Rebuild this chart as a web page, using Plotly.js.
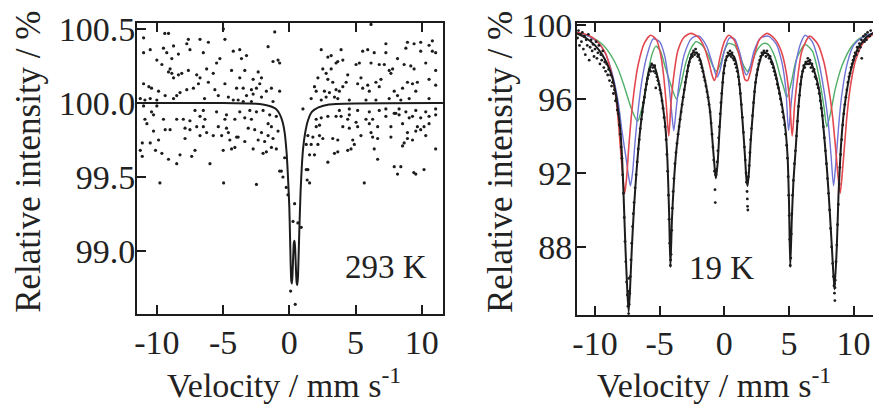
<!DOCTYPE html>
<html><head><meta charset="utf-8">
<script src="https://cdn.plot.ly/plotly-3.0.1.min.js"></script>
</head><body style="margin:0"><div id="plot"></div>
<script>
// ---------- 293 K panel: measured points ----------
const hotX = [-9.12,-11.0,-7.62,-6.74,-4.86,-7.74,-6.11,-9.5,-8.74,-11.0,-10.5,-9.25,-8.37,-7.5,-6.49,-4.23,-8.87,-10.0,-5.24,-5.49,-9.62,-9.0,-9.12,-8.87,-8.12,-7.62,-6.24,-4.36,-8.37,-6.99,-6.74,-5.74,-8.74,-6.86,-6.11,-11.0,-10.6,-10.4,-7.24,-4.86,-3.98,-9.87,-9.37,-8.5,-8.25,-7.74,-5.62,-5.36,-6.4,-11.25,-10.9,-10.5,-10.0,-8.74,-4.6,-4.23,-11.0,-10.0,-10.4,-10.25,-7.12,-6.49,-5.49,-4.74,-10.9,-10.75,-9.5,-8.5,-8.0,-7.5,-6.74,-6.37,-4.86,-4.11,-7.87,-7.5,-9.37,-9.0,-10.25,-6.99,-6.49,-5.36,-4.74,-6.74,-6.24,-5.74,-5.11,-4.6,-3.98,-7.87,-9.87,-11.1,-10.5,-4.49,-11.25,-10.1,-9.62,-7.12,-4.99,-4.36,-4.11,-8.25,-7.37,-9.12,-8.5,-11.1,-5.99,-9.77,-4.96,-9.4,-4.98,
-1.1,-3.74,-1.6,-3.23,-3.61,-1.23,-0.85,-0.73,-3.36,-2.35,-3.74,-2.73,-2.1,-2.23,-3.48,-2.86,-2.48,-1.73,-1.35,-0.73,-3.23,-2.73,-2.1,-1.23,-3.86,-3.48,-2.86,-3.74,-2.98,-2.48,-1.98,-3.36,-2.86,-1.48,-0.98,-1.6,-1.35,-3.1,-2.61,-2.1,-1.6,-0.85,-3.86,-2.35,-1.86,-1.23,-3.36,-1.98,-1.73,-1.35,-0.98,-2.73,-0.35,-0.6,-2.48,-0.73,-0.48,-0.23,-0.1,
0.1,0.45,0.4,0.28,0.65,0.9,1.03,1.35,1.53,1.4,
2.41,2.91,3.16,2.53,2.78,3.16,3.53,2.16,2.91,3.28,1.9,2.03,2.65,3.03,3.53,1.65,2.41,2.78,3.41,2.03,2.41,2.91,3.53,2.03,2.28,1.4,1.78,2.28,2.53,3.28,1.28,1.65,2.16,1.53,1.9,3.41,1.28,2.91,
6.17,3.91,5.54,5.92,7.29,7.29,6.41,8.92,9.42,9.92,10.55,10.8,8.8,9.92,10.8,11.05,3.66,4.04,5.04,5.29,6.17,6.79,7.17,8.17,8.67,9.17,9.42,10.3,11.05,4.41,4.29,4.04,3.78,5.41,5.16,5.54,6.04,5.92,6.54,6.92,6.79,7.54,7.8,7.67,8.55,8.92,9.3,9.67,9.55,10.55,11.05,6.54,7.54,8.42,9.05,10.55,3.66,4.53,5.79,7.92,8.17,
3.78,4.53,5.16,6.04,6.79,7.29,8.04,8.29,8.8,9.55,10.3,11.05,3.91,4.53,4.41,5.04,5.79,6.04,6.29,7.29,7.92,8.29,9.05,9.3,9.92,10.55,11.05,4.04,4.53,5.16,6.67,7.67,8.55,9.67,9.92,10.17,10.55,6.17,6.29,6.67,7.67,8.92,9.55,10.3,9.3,5.41,4.79,4.91,4.66,4.41,3.66,3.66,8.92,8.67,8.55,6.41,6.67,11.05,7.92,8.42,8.17,9.55,10.17,5.66,9.4];
const hotY = [100.47,100.44,100.43,100.43,100.43,100.40,100.41,100.37,100.385,100.34,100.36,100.34,100.33,100.36,100.34,100.35,100.30,100.29,100.30,100.27,100.26,100.23,100.21,100.20,100.20,100.22,100.23,100.22,100.19,100.19,100.17,100.20,100.17,100.13,100.14,100.13,100.11,100.10,100.10,100.13,100.10,100.08,100.05,100.05,100.07,100.09,100.09,100.05,100.03,100.03,100.02,100.03,100.02,100.03,100.04,100.02,99.98,99.98,99.94,99.92,99.95,99.95,99.94,99.92,99.89,99.86,99.89,99.89,99.89,99.88,99.91,99.89,99.89,99.89,99.83,99.82,99.82,99.82,99.81,99.84,99.84,99.84,99.83,99.78,99.80,99.78,99.78,99.80,99.77,99.76,99.75,99.73,99.73,99.75,99.68,99.68,99.66,99.68,99.68,99.69,99.70,99.65,99.64,99.62,99.59,99.64,99.59,99.46,99.46,100.47,100.50,
100.48,100.36,100.38,100.32,100.30,100.28,100.29,100.27,100.22,100.21,100.17,100.16,100.17,100.13,100.10,100.09,100.10,100.08,100.10,100.08,100.05,100.06,100.04,100.01,100.02,100.01,100.01,99.94,99.95,99.94,99.95,99.90,99.89,99.92,99.91,99.86,99.84,99.83,99.82,99.80,99.78,99.81,99.77,99.75,99.74,99.76,99.74,99.66,99.67,99.70,99.69,99.69,99.63,99.54,99.45,99.54,99.50,99.43,99.38,
98.73,98.64,99.32,99.20,99.19,99.16,99.96,99.48,99.46,99.55,
100.36,100.31,100.32,100.23,100.20,100.23,100.27,100.17,100.16,100.14,100.11,100.08,100.08,100.07,100.09,100.03,100.02,100.04,100.04,99.89,99.90,99.91,99.91,99.84,99.85,99.78,99.77,99.78,99.76,99.76,99.72,99.72,99.72,99.65,99.65,99.66,99.55,99.60,
100.53,100.36,100.35,100.36,100.40,100.34,100.34,100.41,100.40,100.41,100.39,100.42,100.37,100.35,100.35,100.34,100.28,100.29,100.26,100.27,100.27,100.26,100.26,100.30,100.26,100.25,100.23,100.27,100.22,100.19,100.14,100.11,100.08,100.17,100.13,100.10,100.08,100.12,100.14,100.16,100.11,100.22,100.23,100.20,100.10,100.14,100.13,100.14,100.08,100.16,100.12,100.02,100.03,100.02,100.03,100.03,100.03,100.02,100.02,100.08,100.05,
99.95,99.96,99.95,99.94,99.95,99.96,99.93,99.96,99.94,99.95,99.94,99.96,99.91,99.92,99.89,99.87,99.89,99.86,99.89,99.91,99.93,99.92,99.90,99.91,99.90,99.91,99.92,99.84,99.83,99.84,99.84,99.84,99.86,99.84,99.82,99.84,99.86,99.80,99.77,99.76,99.77,99.80,99.81,99.78,99.75,99.78,99.75,99.72,99.69,99.68,99.75,99.67,99.76,99.73,99.71,99.69,99.62,99.69,99.57,99.57,99.52,99.52,99.55,99.46,99.53];

// ---------- 293 K panel: fitted curve ----------
const hotFitX = [-11.5,-5,-2.5,-2,-1.5,-1.0,-0.7,-0.5,-0.35,-0.2,-0.1,0.0,0.05,0.1,0.15,0.2,0.25,0.3,0.35,0.4,0.45,0.5,0.55,0.6,0.65,0.7,0.75,0.85,0.95,1.05,1.2,1.4,1.7,2.2,3.0,11.6];
const hotFitY = [100.0,100.0,99.995,99.99,99.98,99.96,99.92,99.87,99.8,99.66,99.5,99.3,99.12,98.92,98.8,98.78,98.86,98.98,99.06,99.07,99.0,98.88,98.79,98.77,98.82,98.96,99.12,99.4,99.58,99.7,99.8,99.88,99.94,99.97,99.99,100.0];

// ---------- 19 K panel: sub-spectra ----------
const redX = [-11.4,-10.5,-9.8,-9.2,-8.8,-8.5,-8.25,-8.05,-7.85,-7.7,-7.55,-7.38,-7.2,-6.95,-6.65,-6.2,-5.7,-5.25,-4.95,-4.7,-4.5,-4.3,-4.12,-3.9,-3.6,-3.1,-2.6,-2.0,-1.55,-1.2,-0.95,-0.78,-0.6,-0.35,0.0,0.35,0.75,1.1,1.4,1.6,1.8,2.0,2.3,2.7,3.3,3.9,4.4,4.8,5.05,5.25,5.45,5.7,6.0,6.6,7.2,7.7,8.05,8.35,8.6,8.8,8.96,9.1,9.3,9.5,9.8,10.2,10.8,11.6];
const redY = [99.6,99.45,99.1,98.5,97.6,96.6,95.2,93.5,91.8,90.9,91.8,93.5,95.0,96.6,97.9,99.0,99.45,99.2,98.5,97.3,95.8,94.0,95.8,97.3,98.6,99.35,99.55,99.35,98.8,98.0,97.3,97.0,97.3,98.2,99.1,99.45,99.2,98.5,97.6,97.05,97.0,97.4,98.3,99.2,99.55,99.25,98.6,97.4,95.9,94.0,95.8,97.3,98.6,99.4,99.0,98.0,96.7,95.2,93.4,91.8,90.9,91.8,93.5,95.2,96.9,98.2,99.1,99.55];
const blueX = [-11.4,-10.5,-9.7,-9.1,-8.6,-8.2,-7.9,-7.6,-7.4,-7.26,-7.1,-6.9,-6.65,-6.35,-6.0,-5.5,-5.0,-4.6,-4.3,-4.1,-3.91,-3.7,-3.45,-3.1,-2.5,-1.95,-1.4,-1.0,-0.7,-0.55,-0.35,0.0,0.4,0.8,1.2,1.5,1.7,1.95,2.3,2.8,3.4,4.0,4.45,4.75,4.97,5.2,5.5,5.9,6.25,6.8,7.3,7.7,8.0,8.25,8.45,8.62,8.85,9.1,9.5,10.0,10.7,11.6];
const blueY = [99.6,99.4,99.0,98.3,97.2,95.8,94.2,92.8,91.8,91.3,92.0,93.7,95.5,97.1,98.3,99.25,99.1,98.3,96.9,95.5,94.3,95.6,97.1,98.4,99.3,99.4,98.9,98.1,97.4,97.2,97.5,98.6,99.3,99.25,98.5,97.6,97.3,97.6,98.6,99.3,99.4,99.0,98.0,96.6,94.3,96.0,97.8,99.0,99.45,99.1,98.0,96.5,95.0,93.0,91.3,92.5,94.6,96.3,97.9,98.9,99.35,99.6];
const greenX = [-11.4,-10.5,-9.5,-8.8,-8.2,-7.7,-7.2,-6.72,-6.3,-5.95,-5.6,-5.3,-4.95,-4.6,-4.2,-3.7,-3.35,-3.0,-2.6,-2.2,-1.7,-1.2,-0.9,-0.6,-0.3,0.0,0.3,0.8,1.2,1.5,1.8,2.1,2.5,3.0,3.4,3.9,4.3,4.6,4.84,5.15,5.6,6.25,6.8,7.3,7.7,7.93,8.2,8.6,9.1,9.8,10.5,11.6];
const greenY = [99.5,99.4,99.0,98.4,97.6,96.6,95.5,94.8,95.7,97.2,98.4,98.85,98.6,97.8,96.9,96.0,96.8,97.9,98.7,99.1,98.9,98.3,97.8,97.5,97.9,98.6,99.0,98.9,98.3,97.8,97.5,97.9,98.6,99.0,98.95,98.3,97.3,96.6,96.1,96.8,98.2,98.95,98.6,97.3,95.6,94.5,95.2,96.6,97.8,98.8,99.3,99.5];

// ---------- 19 K panel: total fit ----------
const coldFitX = [-11.4,-10.7,-10.0,-9.45,-9.0,-8.68,-8.4,-8.2,-8.03,-7.9,-7.78,-7.65,-7.5,-7.4,-7.3,-7.15,-6.98,-6.8,-6.6,-6.4,-6.2,-6.0,-5.8,-5.6,-5.4,-5.2,-4.95,-4.75,-4.56,-4.4,-4.27,-4.17,-4.05,-3.9,-3.7,-3.5,-3.27,-3.0,-2.75,-2.45,-2.15,-1.85,-1.55,-1.3,-1.1,-0.9,-0.75,-0.65,-0.52,-0.38,-0.22,-0.05,0.15,0.45,0.75,1.0,1.2,1.4,1.58,1.72,1.8,1.9,2.05,2.2,2.4,2.65,3.0,3.35,3.7,3.95,4.2,4.45,4.71,4.9,5.0,5.1,5.22,5.35,5.5,5.75,6.0,6.25,6.5,6.8,7.05,7.3,7.55,7.75,7.95,8.15,8.35,8.52,8.7,8.83,9.0,9.2,9.4,9.73,10.0,10.3,10.7,11.0,11.6];
const coldFitY = [99.55,99.3,98.9,98.4,97.8,97.2,96.3,95.3,94.2,92.7,90.6,88.0,85.6,84.5,85.6,88.0,90.2,92.0,93.7,95.0,96.0,96.9,97.6,97.85,97.75,97.3,96.5,95.6,94.5,92.7,89.8,86.9,89.5,91.5,93.3,94.5,95.7,96.9,97.9,98.5,98.5,98.1,97.2,96.3,95.3,93.6,92.3,91.7,92.5,94.2,96.0,97.5,98.2,98.45,98.3,97.7,96.6,94.9,93.1,91.6,91.3,92.0,93.8,95.2,96.8,97.8,98.5,98.45,98.0,97.4,96.6,95.7,94.5,92.8,90.5,86.9,89.5,91.6,93.1,95.7,97.3,97.9,98.05,97.8,97.3,96.6,95.3,93.8,92.1,90.0,87.6,85.7,88.0,90.8,93.2,95.0,96.1,97.4,98.1,98.7,99.1,99.35,99.6];

// ---------- 19 K panel: measured points ----------
const coldX = [-11.35,-11.28,-11.2,-11.12,-11.05,-10.98,-10.9,-10.82,-10.75,-10.68,-10.6,-10.52,-10.45,-10.38,-10.3,-10.22,-10.15,-10.08,-10.0,-9.92,-9.85,-9.78,-9.7,-9.62,-9.55,-9.48,-9.4,-9.32,-9.25,-9.18,-9.1,-9.02,-8.95,-8.88,-8.8,-8.72,-8.65,-8.58,-8.5,-8.42,-8.35,-8.28,-8.2,-8.12,-8.05,-7.98,-7.92,-7.86,-7.8,-7.74,-7.68,-7.62,-7.56,-7.5,-7.45,-7.4,-7.36,-7.32,-7.27,-7.22,-7.16,-7.1,-7.04,-6.98,-6.9,-6.82,-6.74,-6.66,-6.58,-6.5,-6.42,-6.34,-6.26,-6.18,-6.1,-6.02,-5.94,-5.86,-5.78,-5.7,-5.62,-5.54,-5.46,-5.38,-5.3,-5.22,-5.14,-5.06,-4.98,-4.9,-4.82,-4.74,-4.66,-4.58,-4.5,-4.44,-4.38,-4.32,-4.27,-4.22,-4.17,-4.12,-4.07,-4.02,-3.96,-3.9,-3.82,-3.74,-3.66,-3.58,-3.5,-3.42,-3.34,-3.26,-3.18,-3.1,-3.02,-2.94,-2.86,-2.78,-2.7,-2.62,-2.54,-2.46,-2.38,-2.3,-2.22,-2.14,-2.06,-1.98,-1.9,-1.82,-1.74,-1.66,-1.58,-1.5,-1.42,-1.34,-1.26,-1.18,-1.1,-1.02,-0.95,-0.88,-0.82,-0.76,-0.72,-0.7,-0.68,-0.64,-0.6,-0.55,-0.5,-0.44,-0.38,-0.32,-0.26,-0.2,-0.12,-0.04,0.04,0.12,0.2,0.28,0.36,0.44,0.52,0.6,0.68,0.76,0.84,0.92,1.0,1.08,1.16,1.24,1.32,1.4,1.48,1.56,1.62,1.68,1.72,1.76,1.78,1.8,1.82,1.86,1.92,1.98,2.04,2.1,2.18,2.26,2.34,2.42,2.5,2.58,2.66,2.74,2.82,2.9,2.98,3.06,3.14,3.22,3.3,3.38,3.46,3.54,3.62,3.7,3.78,3.86,3.94,4.02,4.1,4.18,4.26,4.34,4.42,4.5,4.58,4.66,4.74,4.82,4.88,4.94,4.98,5.02,5.06,5.1,5.14,5.18,5.22,5.28,5.34,5.42,5.5,5.58,5.66,5.74,5.82,5.9,5.98,6.06,6.14,6.22,6.3,6.38,6.46,6.54,6.62,6.7,6.78,6.86,6.94,7.02,7.1,7.18,7.26,7.34,7.42,7.5,7.58,7.66,7.74,7.82,7.9,7.98,8.06,8.14,8.22,8.3,8.38,8.44,8.48,8.52,8.55,8.58,8.64,8.7,8.76,8.82,8.88,8.94,9.0,9.08,9.16,9.24,9.32,9.4,9.48,9.56,9.64,9.72,9.8,9.88,9.96,10.04,10.12,10.2,10.28,10.36,10.44,10.52,10.6,10.63,10.76,10.84,10.92,11.0,11.08,11.24,11.32,-5.3,-7.42,-7.38,-4.15,8.53,8.56];
const coldY = [99.3,99.7,98.9,99.5,99.1,99.6,98.7,99.4,98.4,99.2,98.9,99.5,98.1,98.8,99.2,98.6,98.95,98.3,98.7,99.1,98.2,98.5,98.9,97.9,98.4,98.1,98.6,97.7,98.0,97.5,97.9,97.3,97.6,97.0,97.3,96.7,96.9,96.3,96.5,95.9,96.0,95.4,95.2,94.6,94.1,93.4,92.8,91.9,90.9,89.6,88.3,87.2,86.1,85.4,84.8,84.4,84.9,85.5,86.4,87.3,88.2,89.1,89.8,90.4,91.2,91.9,92.6,93.3,93.8,94.4,94.9,95.3,95.8,96.1,96.5,96.8,97.1,97.3,97.6,97.5,97.9,97.7,97.5,97.8,97.4,97.2,97.0,96.8,96.5,96.3,95.9,95.5,95.0,94.5,93.8,93.0,92.1,90.8,89.5,88.2,87.0,87.6,88.9,90.1,91.0,91.7,92.5,93.1,93.6,94.1,94.5,94.9,95.3,95.7,96.1,96.5,96.9,97.2,97.5,97.8,98.0,98.2,98.4,98.3,98.6,98.4,98.7,98.5,98.3,98.4,98.1,97.9,97.7,97.5,97.2,97.0,96.7,96.4,96.1,95.7,95.3,94.7,94.1,93.4,92.7,92.1,91.1,90.4,91.9,91.9,92.2,92.6,93.2,93.9,94.5,95.2,95.8,96.3,96.9,97.4,97.8,98.1,98.3,98.5,98.4,98.6,98.3,98.5,98.2,98.1,97.9,97.7,97.5,97.2,96.8,96.3,95.7,95.0,94.2,93.4,92.7,92.0,91.5,91.0,90.6,90.2,90.0,91.8,92.4,93.1,93.8,94.4,95.1,95.8,96.4,96.9,97.3,97.6,97.9,98.1,98.3,98.5,98.4,98.6,98.5,98.3,98.6,98.4,98.2,98.3,98.0,97.9,97.7,97.5,97.3,97.1,96.8,96.6,96.3,96.0,95.7,95.3,95.0,94.6,94.1,93.5,92.8,91.8,90.8,89.7,88.4,87.0,87.4,88.7,89.8,90.8,91.6,92.5,93.2,94.0,94.8,95.6,96.2,96.8,97.2,97.5,97.8,97.7,98.0,97.9,98.2,97.9,98.1,97.7,97.9,97.5,97.6,97.2,97.1,96.8,96.6,96.3,95.9,95.5,95.1,94.5,93.9,93.2,92.5,91.7,90.9,90.0,89.0,88.0,87.1,86.4,85.9,85.5,85.1,86.2,87.2,88.1,89.2,90.3,91.4,92.3,93.0,93.8,94.6,95.2,95.7,96.1,96.5,96.9,97.2,97.4,97.7,97.9,98.1,98.3,98.5,98.4,98.8,98.6,99.0,98.8,99.2,98.2,99.4,99.1,99.5,99.2,99.6,99.4,99.7,96.6,85.6,86.3,87.3,86.0,85.8];

// ---------- ticks and texts ----------
const velTicks = [-10, -5, 0, 5, 10];
const velLabels = ['-10', '-5', '0', '5', '10'];
const hotTicks = [99.0, 99.5, 100.0, 100.5];
const hotLabels = ['99.0', '99.5', '100.0', '100.5'];
const coldTicks = [88, 92, 96, 100];
const coldLabels = ['88', '92', '96', '100'];
const coldMinor = [86, 90, 94, 98];
const xTitle = 'Velocity / mm s<sup>-1</sup>';
const yTitle = 'Relative intensity / %';
const panelLabels = ['293 K', '19 K'];

const FONT = 'Liberation Serif';
const INK = '#1c1c1c';

const traces = [
  {x: hotX, y: hotY, xaxis: 'x', yaxis: 'y', mode: 'markers', type: 'scatter',
   marker: {size: 3.2, color: INK}},
  {x: hotFitX, y: hotFitY, xaxis: 'x', yaxis: 'y', mode: 'lines', type: 'scatter',
   line: {color: INK, width: 2, shape: 'spline', smoothing: 0.6}},
  {x: greenX, y: greenY, xaxis: 'x2', yaxis: 'y2', mode: 'lines', type: 'scatter',
   line: {color: '#4fae67', width: 1.4, shape: 'spline', smoothing: 0.7}},
  {x: blueX, y: blueY, xaxis: 'x2', yaxis: 'y2', mode: 'lines', type: 'scatter',
   line: {color: '#6f73d6', width: 1.4, shape: 'spline', smoothing: 0.7}},
  {x: redX, y: redY, xaxis: 'x2', yaxis: 'y2', mode: 'lines', type: 'scatter',
   line: {color: '#e2484f', width: 1.6, shape: 'spline', smoothing: 0.7}},
  {x: coldX, y: coldY, xaxis: 'x2', yaxis: 'y2', mode: 'markers', type: 'scatter',
   marker: {size: 2.8, color: INK}},
  {x: coldFitX, y: coldFitY, xaxis: 'x2', yaxis: 'y2', mode: 'lines', type: 'scatter',
   line: {color: INK, width: 2, shape: 'spline', smoothing: 0.6}}
];

function axisStyle(extra) {
  const a = {
    showgrid: false, zeroline: false, showline: true, linecolor: INK, linewidth: 2,
    ticks: 'inside', ticklen: 9, tickwidth: 2, tickcolor: INK,
    tickfont: {family: FONT, size: 34, color: '#222'}
  };
  for (const k in extra) a[k] = extra[k];
  return a;
}

const layout = {
  width: 873, height: 406,
  margin: {l: 0, r: 0, t: 0, b: 0},
  paper_bgcolor: '#fff', plot_bgcolor: '#fff',
  showlegend: false,
  xaxis: axisStyle({domain: [0.1569, 0.5074], range: [-11.5, 11.6], anchor: 'y',
    tickmode: 'array', tickvals: velTicks, ticktext: velLabels, mirror: 'ticks', ticklabelstandoff: -3}),
  yaxis: axisStyle({domain: [0.2266, 0.9433], range: [98.575, 100.54], anchor: 'x',
    tickmode: 'array', tickvals: hotTicks, ticktext: hotLabels, mirror: true, ticklabelstandoff: -7}),
  xaxis2: axisStyle({domain: [0.661, 1.0], range: [-11.39, 11.5], anchor: 'y2',
    tickmode: 'array', tickvals: velTicks, ticktext: velLabels, mirror: 'ticks', ticklabelstandoff: -3}),
  yaxis2: axisStyle({domain: [0.2241, 0.9433], range: [84.32, 100.11], anchor: 'x2',
    tickmode: 'array', tickvals: coldTicks, ticktext: coldLabels, mirror: true, ticklabelstandoff: -4}),
  yaxis3: axisStyle({domain: [0.2241, 0.9433], range: [84.32, 100.11], anchor: 'x2', overlaying: 'y2',
    tickmode: 'array', tickvals: coldMinor, showticklabels: false, showline: false, side: 'left'}),
  annotations: [
    {text: xTitle, xref: 'paper', yref: 'paper', x: 0.325, y: 0.056, xanchor: 'center', yanchor: 'middle',
     showarrow: false, font: {family: FONT, size: 34, color: '#222'}},
    {text: xTitle, xref: 'paper', yref: 'paper', x: 0.818, y: 0.056, xanchor: 'center', yanchor: 'middle',
     showarrow: false, font: {family: FONT, size: 34, color: '#222'}},
    {text: yTitle, xref: 'paper', yref: 'paper', x: 0.033, y: 0.601, xanchor: 'center', yanchor: 'middle',
     textangle: -90, showarrow: false, font: {family: FONT, size: 35, color: '#222'}},
    {text: yTitle, xref: 'paper', yref: 'paper', x: 0.574, y: 0.601, xanchor: 'center', yanchor: 'middle',
     textangle: -90, showarrow: false, font: {family: FONT, size: 35, color: '#222'}},
    {text: panelLabels[0], xref: 'paper', yref: 'paper', x: 0.442, y: 0.342, xanchor: 'center', yanchor: 'middle',
     showarrow: false, font: {family: FONT, size: 33, color: '#222'}},
    {text: panelLabels[1], xref: 'paper', yref: 'paper', x: 0.827, y: 0.340, xanchor: 'center', yanchor: 'middle',
     showarrow: false, font: {family: FONT, size: 33, color: '#222'}}
  ]
};

Plotly.newPlot('plot', traces, layout, {displayModeBar: false});
</script>
</body></html>
